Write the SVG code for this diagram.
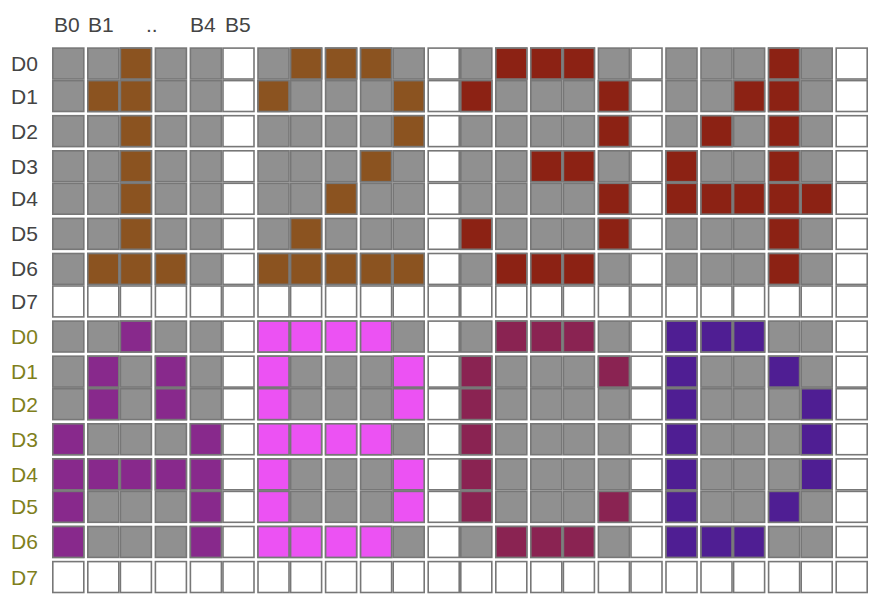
<svg xmlns="http://www.w3.org/2000/svg" xmlns:xlink="http://www.w3.org/1999/xlink" width="871" height="600" viewBox="0 0 871 600">
<style>
use{stroke:#777;stroke-width:1.6}
.g{fill:#909090}
.w{fill:#ffffff}
.br{fill:#8b5320}
.rd{fill:#8c2214}
.pu{fill:#88298c}
.mg{fill:#ec52f3}
.wn{fill:#8a2352}
.in{fill:#4f1e93}
text{font-family:"Liberation Sans",Arial,Helvetica,sans-serif;font-size:21px}
.lt{fill:#444444}
.lo{fill:#7f7f1c}
</style>
<defs>
<rect id="c" width="31" height="30.9"/>
<g id="rowbase">
<use href="#c" x="52.8" class="g"/><use href="#c" x="87.8" class="g"/><use href="#c" x="120.4" class="g"/><use href="#c" x="155.4" class="g"/><use href="#c" x="190.4" class="g"/><use href="#c" x="223" class="w"/>
<use href="#c" x="258" class="g"/><use href="#c" x="290.6" class="g"/><use href="#c" x="325.6" class="g"/><use href="#c" x="360.6" class="g"/><use href="#c" x="393.2" class="g"/><use href="#c" x="428.2" class="w"/>
<use href="#c" x="460.8" class="g"/><use href="#c" x="495.8" class="g"/><use href="#c" x="530.8" class="g"/><use href="#c" x="563.4" class="g"/><use href="#c" x="598.4" class="g"/><use href="#c" x="631" class="w"/>
<use href="#c" x="666" class="g"/><use href="#c" x="701" class="g"/><use href="#c" x="733.6" class="g"/><use href="#c" x="768.6" class="g"/><use href="#c" x="801.2" class="g"/><use href="#c" x="836.2" class="w"/>
</g>
<g id="rowwhite" class="w">
<use href="#c" x="52.8"/><use href="#c" x="87.8"/><use href="#c" x="120.4"/><use href="#c" x="155.4"/><use href="#c" x="190.4"/><use href="#c" x="223"/>
<use href="#c" x="258"/><use href="#c" x="290.6"/><use href="#c" x="325.6"/><use href="#c" x="360.6"/><use href="#c" x="393.2"/><use href="#c" x="428.2"/>
<use href="#c" x="460.8"/><use href="#c" x="495.8"/><use href="#c" x="530.8"/><use href="#c" x="563.4"/><use href="#c" x="598.4"/><use href="#c" x="631"/>
<use href="#c" x="666"/><use href="#c" x="701"/><use href="#c" x="733.6"/><use href="#c" x="768.6"/><use href="#c" x="801.2"/><use href="#c" x="836.2"/>
</g>
</defs>
<rect width="871" height="600" fill="#ffffff"/>

<g id="header" class="lt">
<text x="54" y="32">B0</text>
<text x="88" y="32">B1</text>
<text x="146" y="32">..</text>
<text x="190" y="32">B4</text>
<text x="225" y="32">B5</text>
</g>

<g id="row-labels">
<text class="lt" x="11" y="71">D0</text>
<text class="lt" x="11" y="103.5">D1</text>
<text class="lt" x="11" y="138.6">D2</text>
<text class="lt" x="11" y="173.7">D3</text>
<text class="lt" x="11" y="206.2">D4</text>
<text class="lt" x="11" y="241.3">D5</text>
<text class="lt" x="11" y="276.4">D6</text>
<text class="lt" x="11" y="308.9">D7</text>
<text class="lo" x="11" y="344">D0</text>
<text class="lo" x="11" y="379.1">D1</text>
<text class="lo" x="11" y="411.6">D2</text>
<text class="lo" x="11" y="446.7">D3</text>
<text class="lo" x="11" y="481.8">D4</text>
<text class="lo" x="11" y="514.3">D5</text>
<text class="lo" x="11" y="549.4">D6</text>
<text class="lo" x="11" y="584.5">D7</text>
</g>

<g id="grid">
<use href="#rowbase" y="48.1" style="stroke:none"/>
<use href="#rowbase" y="80.6" style="stroke:none"/>
<use href="#rowbase" y="115.7" style="stroke:none"/>
<use href="#rowbase" y="150.8" style="stroke:none"/>
<use href="#rowbase" y="183.3" style="stroke:none"/>
<use href="#rowbase" y="218.4" style="stroke:none"/>
<use href="#rowbase" y="253.5" style="stroke:none"/>
<use href="#rowwhite" y="286" style="stroke:none"/>
<use href="#rowbase" y="321.1" style="stroke:none"/>
<use href="#rowbase" y="356.2" style="stroke:none"/>
<use href="#rowbase" y="388.7" style="stroke:none"/>
<use href="#rowbase" y="423.8" style="stroke:none"/>
<use href="#rowbase" y="458.9" style="stroke:none"/>
<use href="#rowbase" y="491.4" style="stroke:none"/>
<use href="#rowbase" y="526.5" style="stroke:none"/>
<use href="#rowwhite" y="561.6" style="stroke:none"/>
</g>

<g id="char-1" class="br">
<use href="#c" x="120.4" y="48.1"/>
<use href="#c" x="87.8" y="80.6"/><use href="#c" x="120.4" y="80.6"/>
<use href="#c" x="120.4" y="115.7"/>
<use href="#c" x="120.4" y="150.8"/>
<use href="#c" x="120.4" y="183.3"/>
<use href="#c" x="120.4" y="218.4"/>
<use href="#c" x="87.8" y="253.5"/><use href="#c" x="120.4" y="253.5"/><use href="#c" x="155.4" y="253.5"/>
</g>

<g id="char-2" class="br">
<use href="#c" x="290.6" y="48.1"/><use href="#c" x="325.6" y="48.1"/><use href="#c" x="360.6" y="48.1"/>
<use href="#c" x="258" y="80.6"/><use href="#c" x="393.2" y="80.6"/>
<use href="#c" x="393.2" y="115.7"/>
<use href="#c" x="360.6" y="150.8"/>
<use href="#c" x="325.6" y="183.3"/>
<use href="#c" x="290.6" y="218.4"/>
<use href="#c" x="258" y="253.5"/><use href="#c" x="290.6" y="253.5"/><use href="#c" x="325.6" y="253.5"/><use href="#c" x="360.6" y="253.5"/><use href="#c" x="393.2" y="253.5"/>
</g>

<g id="char-3" class="rd">
<use href="#c" x="495.8" y="48.1"/><use href="#c" x="530.8" y="48.1"/><use href="#c" x="563.4" y="48.1"/>
<use href="#c" x="460.8" y="80.6"/><use href="#c" x="598.4" y="80.6"/>
<use href="#c" x="598.4" y="115.7"/>
<use href="#c" x="530.8" y="150.8"/><use href="#c" x="563.4" y="150.8"/>
<use href="#c" x="598.4" y="183.3"/>
<use href="#c" x="460.8" y="218.4"/><use href="#c" x="598.4" y="218.4"/>
<use href="#c" x="495.8" y="253.5"/><use href="#c" x="530.8" y="253.5"/><use href="#c" x="563.4" y="253.5"/>
</g>

<g id="char-4" class="rd">
<use href="#c" x="768.6" y="48.1"/>
<use href="#c" x="733.6" y="80.6"/><use href="#c" x="768.6" y="80.6"/>
<use href="#c" x="701" y="115.7"/><use href="#c" x="768.6" y="115.7"/>
<use href="#c" x="666" y="150.8"/><use href="#c" x="768.6" y="150.8"/>
<use href="#c" x="666" y="183.3"/><use href="#c" x="701" y="183.3"/><use href="#c" x="733.6" y="183.3"/><use href="#c" x="768.6" y="183.3"/><use href="#c" x="801.2" y="183.3"/>
<use href="#c" x="768.6" y="218.4"/>
<use href="#c" x="768.6" y="253.5"/>
</g>

<g id="char-A" class="pu">
<use href="#c" x="120.4" y="321.1"/>
<use href="#c" x="87.8" y="356.2"/><use href="#c" x="155.4" y="356.2"/>
<use href="#c" x="87.8" y="388.7"/><use href="#c" x="155.4" y="388.7"/>
<use href="#c" x="52.8" y="423.8"/><use href="#c" x="190.4" y="423.8"/>
<use href="#c" x="52.8" y="458.9"/><use href="#c" x="87.8" y="458.9"/><use href="#c" x="120.4" y="458.9"/><use href="#c" x="155.4" y="458.9"/><use href="#c" x="190.4" y="458.9"/>
<use href="#c" x="52.8" y="491.4"/><use href="#c" x="190.4" y="491.4"/>
<use href="#c" x="52.8" y="526.5"/><use href="#c" x="190.4" y="526.5"/>
</g>

<g id="char-B" class="mg">
<use href="#c" x="258" y="321.1"/><use href="#c" x="290.6" y="321.1"/><use href="#c" x="325.6" y="321.1"/><use href="#c" x="360.6" y="321.1"/>
<use href="#c" x="258" y="356.2"/><use href="#c" x="393.2" y="356.2"/>
<use href="#c" x="258" y="388.7"/><use href="#c" x="393.2" y="388.7"/>
<use href="#c" x="258" y="423.8"/><use href="#c" x="290.6" y="423.8"/><use href="#c" x="325.6" y="423.8"/><use href="#c" x="360.6" y="423.8"/>
<use href="#c" x="258" y="458.9"/><use href="#c" x="393.2" y="458.9"/>
<use href="#c" x="258" y="491.4"/><use href="#c" x="393.2" y="491.4"/>
<use href="#c" x="258" y="526.5"/><use href="#c" x="290.6" y="526.5"/><use href="#c" x="325.6" y="526.5"/><use href="#c" x="360.6" y="526.5"/>
</g>

<g id="char-C" class="wn">
<use href="#c" x="495.8" y="321.1"/><use href="#c" x="530.8" y="321.1"/><use href="#c" x="563.4" y="321.1"/>
<use href="#c" x="460.8" y="356.2"/><use href="#c" x="598.4" y="356.2"/>
<use href="#c" x="460.8" y="388.7"/>
<use href="#c" x="460.8" y="423.8"/>
<use href="#c" x="460.8" y="458.9"/>
<use href="#c" x="460.8" y="491.4"/><use href="#c" x="598.4" y="491.4"/>
<use href="#c" x="495.8" y="526.5"/><use href="#c" x="530.8" y="526.5"/><use href="#c" x="563.4" y="526.5"/>
</g>

<g id="char-D" class="in">
<use href="#c" x="666" y="321.1"/><use href="#c" x="701" y="321.1"/><use href="#c" x="733.6" y="321.1"/>
<use href="#c" x="666" y="356.2"/><use href="#c" x="768.6" y="356.2"/>
<use href="#c" x="666" y="388.7"/><use href="#c" x="801.2" y="388.7"/>
<use href="#c" x="666" y="423.8"/><use href="#c" x="801.2" y="423.8"/>
<use href="#c" x="666" y="458.9"/><use href="#c" x="801.2" y="458.9"/>
<use href="#c" x="666" y="491.4"/><use href="#c" x="768.6" y="491.4"/>
<use href="#c" x="666" y="526.5"/><use href="#c" x="701" y="526.5"/><use href="#c" x="733.6" y="526.5"/>
</g>
</svg>
